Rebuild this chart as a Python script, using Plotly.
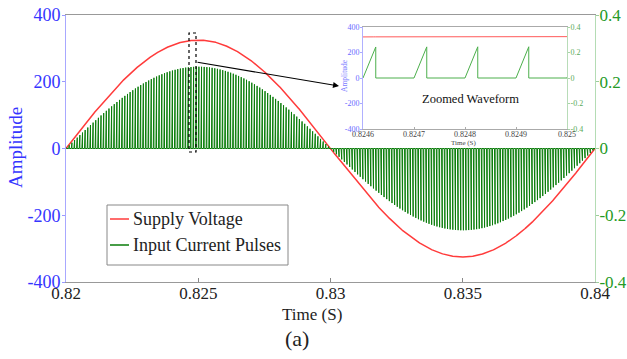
import numpy as np
import plotly.graph_objects as go

# ---------------- data ----------------
time_window = [0.82, 0.84]              # s
zoom_window = [0.8246, 0.825]           # s
series_names = ["Supply Voltage", "Input Current Pulses"]
supply_peak_v = [325.0]                 # V, peak of supply sine
supply_freq_hz = [50.0]                 # Hz
current_peak_a = [0.245]                # A, envelope peak of current pulses
switching_freq_hz = [10000.0]           # Hz, one pulse every 0.1 ms
ramp_fraction = [0.25]                  # rise time / switching period

x_tick_vals = [0.82, 0.825, 0.83, 0.835, 0.84]
x_tick_text = ["0.82", "0.825", "0.83", "0.835", "0.84"]
left_tick_vals = [-400, -200, 0, 200, 400]
left_tick_text = ["-400", "-200", "0", "200", "400"]
right_tick_vals = [-0.4, -0.2, 0, 0.2, 0.4]
right_tick_text = ["-0.4", "-0.2", "0", "0.2", "0.4"]
inset_x_vals = [0.8246, 0.8247, 0.8248, 0.8249, 0.825]
inset_x_text = ["0.8246", "0.8247", "0.8248", "0.8249", "0.825"]

# ---------------- waveforms ----------------
t0, t1 = time_window
f = supply_freq_hz[0]
T = 1.0 / switching_freq_hz[0]
t_v = np.linspace(t0, t1, 4001)
v = supply_peak_v[0] * np.sin(2 * np.pi * f * (t_v - t0))

n_p = int(round((t1 - t0) / T))
t_i, i_i = [], []
for k in range(n_p):
    ts = t0 + k * T
    tp = ts + ramp_fraction[0] * T
    pk = current_peak_a[0] * np.sin(2 * np.pi * f * (tp - t0))
    t_i += [ts, tp, tp]
    i_i += [0.0, pk, 0.0]
t_i.append(t1)
i_i.append(0.0)

# ---------------- layout helpers ----------------
W, H = 627, 359
L, R, TOP, BOT = 66, 595, 15, 282
def xp(px): return (px - L) / (R - L)
def yp(py): return (BOT - py) / (BOT - TOP)

SERIF = "Liberation Serif"
BLUE = "#3535ff"
GREEN = "#259a25"
RED = "#ff3b3b"
DKGREEN = "#0a7d0a"

fig = go.Figure()
fig.add_trace(go.Scatter(x=t_i, y=i_i, mode="lines", line=dict(color=DKGREEN, width=1),
                         xaxis="x", yaxis="y2", name=series_names[1], showlegend=False))
fig.add_trace(go.Scatter(x=t_v, y=v, mode="lines", line=dict(color=RED, width=1.5),
                         xaxis="x", yaxis="y", name=series_names[0], showlegend=False))
# inset
fig.add_trace(go.Scatter(x=t_i, y=i_i, mode="lines", line=dict(color="#4caf4c", width=1),
                         xaxis="x3", yaxis="y4", showlegend=False))
fig.add_trace(go.Scatter(x=t_v, y=v, mode="lines", line=dict(color="#ff5a5a", width=1),
                         xaxis="x3", yaxis="y3", showlegend=False))

ins_dom_x = [xp(363), xp(567)]
ins_dom_y = [yp(129), yp(27)]

fig.update_layout(
    width=W, height=H, margin=dict(l=L, r=W - R, t=TOP, b=H - BOT, autoexpand=False),
    paper_bgcolor="white", plot_bgcolor="white", showlegend=False,
    font=dict(family=SERIF),
    xaxis=dict(domain=[0, 1], range=time_window, tickvals=x_tick_vals, ticktext=x_tick_text,
               ticks="inside", ticklen=4, tickcolor="#888", showline=True, linecolor="#999",
               mirror=True, showgrid=False, zeroline=False, automargin=False,
               ticklabelstandoff=-4,
               tickfont=dict(size=17, color="#222", family=SERIF), anchor="y"),
    yaxis=dict(domain=[0, 1], range=[-400, 400], tickvals=left_tick_vals, ticktext=left_tick_text,
               ticks="outside", ticklen=3, tickcolor="#9a9aff", showline=True, linecolor="#a8a8ff",
               showgrid=False, zeroline=False, automargin=False, ticklabelstandoff=-2,
               tickfont=dict(size=18, color=BLUE, family=SERIF), anchor="x"),
    yaxis2=dict(overlaying="y", side="right", range=[-0.4, 0.4], tickvals=right_tick_vals,
                ticktext=right_tick_text, ticks="outside", ticklen=3, tickcolor="#9ccc9c",
                showline=True, linecolor="#b4dcb4", showgrid=False, zeroline=False, automargin=False,
                ticklabelstandoff=-3,
                tickfont=dict(size=17, color=GREEN, family=SERIF), anchor="x"),
    xaxis3=dict(domain=ins_dom_x, range=zoom_window, tickvals=inset_x_vals, ticktext=inset_x_text,
                ticks="inside", ticklen=2, tickcolor="#aaa", showline=True, linecolor="#aaa",
                mirror=True, showgrid=False, zeroline=False, automargin=False,
                ticklabelstandoff=-3,
                tickfont=dict(size=8, color="#444", family=SERIF), anchor="y3"),
    yaxis3=dict(domain=ins_dom_y, range=[-400, 400], tickvals=left_tick_vals, ticktext=left_tick_text,
                ticks="outside", ticklen=2, tickcolor="#aaaaff", showline=True, linecolor="#b0b0ff",
                showgrid=False, zeroline=False, automargin=False, ticklabelstandoff=-1,
                tickfont=dict(size=8, color="#6a6aff", family=SERIF), anchor="x3"),
    yaxis4=dict(overlaying="y3", side="right", range=[-0.4, 0.4], tickvals=right_tick_vals,
                ticktext=right_tick_text, ticks="outside", ticklen=2, tickcolor="#a8d4a8",
                showline=True, linecolor="#b8dcb8", showgrid=False, zeroline=False, automargin=False,
                ticklabelstandoff=-1,
                tickfont=dict(size=8, color="#5aaa5a", family=SERIF), anchor="x3"),
)

shapes = [
    # dashed zoom marker
    dict(type="rect", xref="paper", yref="paper", x0=xp(189), x1=xp(196), y0=yp(152), y1=yp(33),
         line=dict(color="black", width=1.2, dash="dot")),
    # legend box
    dict(type="rect", xref="paper", yref="paper", x0=xp(107), x1=xp(288), y0=yp(265), y1=yp(205),
         line=dict(color="#888", width=1), fillcolor="white", layer="above"),
    dict(type="line", xref="paper", yref="paper", x0=xp(110), x1=xp(129), y0=yp(219), y1=yp(219),
         line=dict(color=RED, width=1.5)),
    dict(type="line", xref="paper", yref="paper", x0=xp(110), x1=xp(129), y0=yp(245), y1=yp(245),
         line=dict(color=DKGREEN, width=1.5)),
]
fig.update_layout(shapes=shapes)

def ann(text, px, py, size, color="#222", angle=0, xanchor="center"):
    return dict(text=text, x=xp(px), y=yp(py), xref="paper", yref="paper", showarrow=False,
                xanchor=xanchor, yanchor="middle", textangle=angle,
                font=dict(size=size, color=color, family=SERIF))

annotations = [
    ann(series_names[0], 131, 219, 18, xanchor="left"),
    ann(series_names[1], 131, 245, 18, xanchor="left"),
    ann("Amplitude", 15, 148, 19, BLUE, -90),
    ann("Time (S)", 312, 314, 17),
    ann("(a)", 297, 338, 22),
    ann("500", 58, 367, 19, BLUE),
    ann("Zoomed Waveform", 470, 99, 12.5, "#111"),
    ann("Amplitude", 344, 76, 7.5, "#7a7aff", -90),
    ann("Time (S)", 464, 143, 7, "#444"),
    dict(text="", x=xp(339), y=yp(86), xref="paper", yref="paper", showarrow=True,
         ax=196 - 339, ay=62 - 86, arrowhead=2, arrowsize=1, arrowwidth=1.2,
         arrowcolor="black", standoff=0, startstandoff=0),
]
fig.update_layout(annotations=annotations)

fig.write_html("out.html")
